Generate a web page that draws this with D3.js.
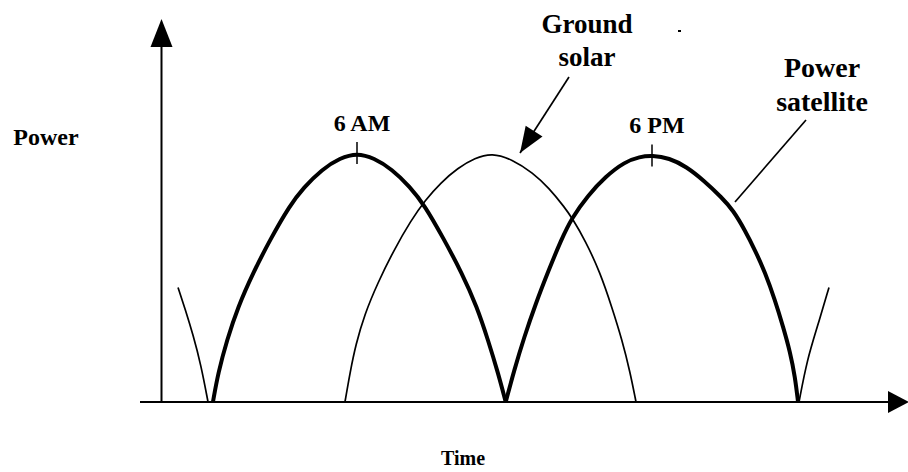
<!DOCTYPE html>
<html>
<head>
<meta charset="utf-8">
<script src="https://cdn.jsdelivr.net/npm/d3@7"></script>
<style>
  body { margin: 0; background: #fff; }
</style>
</head>
<body>
<svg id="chart" width="908" height="472"></svg>
<script>
// values: [hour of day, relative power]
const satelliteAM = [[0.14, 0], [0.35, 0.116], [0.71, 0.249], [1.16, 0.382], [1.77, 0.518], [2.46, 0.651], [3.27, 0.79],
  [3.82, 0.86], [4.58, 0.935], [5.31, 0.98], [6.0, 1.0], [6.69, 0.98], [7.42, 0.935], [8.15, 0.865], [8.75, 0.79],
  [9.5, 0.66], [10.27, 0.518], [10.88, 0.382], [11.33, 0.249], [11.74, 0.116], [12.05, 0]]
const satellitePM = [[12.05, 0], [12.4, 0.13], [12.8, 0.26], [13.25, 0.39], [13.8, 0.53], [14.3, 0.65], [14.74, 0.74],
  [15.4, 0.83], [16.1, 0.905], [16.9, 0.965], [17.5, 0.985], [18.0, 0.99], [18.7, 0.98], [19.4, 0.945], [20.1, 0.89],
  [20.85, 0.82], [21.3, 0.77], [21.78, 0.69], [22.19, 0.61], [22.6, 0.52], [23.0, 0.41], [23.34, 0.30], [23.62, 0.20],
  [23.82, 0.10], [23.94, 0]]
const groundSolar = [[5.51, 0], [5.72, 0.12], [5.95, 0.23], [6.3, 0.35], [6.85, 0.48], [7.5, 0.61], [8.2, 0.73],
  [8.77, 0.81], [9.4, 0.88], [10.1, 0.94], [10.8, 0.98], [11.49, 1.0], [12.3, 0.975], [13.16, 0.92], [13.8, 0.86],
  [14.46, 0.78], [14.74, 0.74], [15.28, 0.65], [15.89, 0.52], [16.37, 0.38], [16.78, 0.25], [17.11, 0.12], [17.35, 0]]
const tailBefore = [[-1.28, 0.46], [-0.98, 0.37], [-0.67, 0.27], [-0.35, 0.15], [-0.06, 0]]
const tailAfter = [[23.98, 0], [24.31, 0.17], [24.72, 0.30], [25.2, 0.46]]

const peakHours = [6, 18]
const peakLabels = ['6 AM', '6 PM']
const axisLabels = { x: 'Time', y: 'Power' }
const solarLabel = ['Ground', 'solar']
const satelliteLabel = ['Power', 'satellite']

const svg = d3.select('#chart')

const x = d3.scaleLinear().domain([0, 24]).range([209.5, 799.5])
const y = d3.scaleLinear().domain([0, 1]).range([402, 153])

const line = d3.line()
  .x(d => x(d[0]))
  .y(d => y(d[1]))
  .curve(d3.curveBasis)

function label (tx, ty, size, text) {
  return svg.append('text').attr('x', tx).attr('y', ty).attr('text-anchor', 'middle')
    .attr('style', `font-family: 'Liberation Serif'; font-weight: bold; font-size: ${size}px`)
    .attr('fill', '#000').text(text)
}

// axes with arrow heads
const axisX0 = 140
const axisXEnd = 888
const axisYx = 161.5
const axisYEnd = 47
svg.append('line').attr('x1', axisX0).attr('x2', axisXEnd).attr('y1', y(0)).attr('y2', y(0))
  .attr('stroke', '#000').attr('stroke-width', 2)
svg.append('path').attr('d', `M${axisXEnd},${y(0) - 11}L${axisXEnd + 21},${y(0)}L${axisXEnd},${y(0) + 11}Z`)
svg.append('line').attr('x1', axisYx).attr('x2', axisYx).attr('y1', y(0) + 1).attr('y2', axisYEnd)
  .attr('stroke', '#000').attr('stroke-width', 2)
svg.append('path').attr('d', `M${axisYx - 11},${axisYEnd}L${axisYx},${axisYEnd - 28}L${axisYx + 11},${axisYEnd}Z`)

// curves
const thin = [groundSolar, tailBefore, tailAfter]
const thick = [satelliteAM, satellitePM]
svg.selectAll('path.thin').data(thin).join('path').attr('class', 'thin')
  .attr('d', line).attr('fill', 'none').attr('stroke', '#000').attr('stroke-width', 1.7)
svg.selectAll('path.thick').data(thick).join('path').attr('class', 'thick')
  .attr('d', line).attr('fill', 'none').attr('stroke', '#000').attr('stroke-width', 4)
  .attr('stroke-linejoin', 'round')

// peak ticks and labels
const peakValues = [satelliteAM, satellitePM].map((s, i) => s.find(d => d[0] === peakHours[i])[1])
peakHours.forEach((h, i) => {
  const py = y(peakValues[i])
  svg.append('line').attr('x1', x(h)).attr('x2', x(h)).attr('y1', py - 11).attr('y2', py + 11)
    .attr('stroke', '#000').attr('stroke-width', 1.5)
  label(x(h) + 5, py - 22, 24, peakLabels[i])
})

// axis titles
label(46, 145, 24, axisLabels.y)
label(463, 465, 20, axisLabels.x)

// callouts
function arrow (x1, y1, x2, y2, head) {
  svg.append('line').attr('x1', x1).attr('y1', y1).attr('x2', x2).attr('y2', y2)
    .attr('stroke', '#000').attr('stroke-width', 1.7)
  if (!head) return
  const len = Math.hypot(x2 - x1, y2 - y1)
  const ux = (x2 - x1) / len
  const uy = (y2 - y1) / len
  const bx = x2 - ux * 26
  const by = y2 - uy * 26
  svg.append('path').attr('d', `M${x2},${y2}L${bx - uy * 10},${by + ux * 10}L${bx + uy * 10},${by - ux * 10}Z`)
}
arrow(569, 77, 520, 153, true)
arrow(806, 120, 735, 202, false)

solarLabel.forEach((t, i) => label(587, 33 + i * 33, 27, t))
satelliteLabel.forEach((t, i) => label(822, 77 + i * 34, 28, t))

// stray speck in the source figure
svg.append('rect').attr('x', 678).attr('y', 30).attr('width', 3).attr('height', 2).attr('fill', '#000')
</script>
</body>
</html>
